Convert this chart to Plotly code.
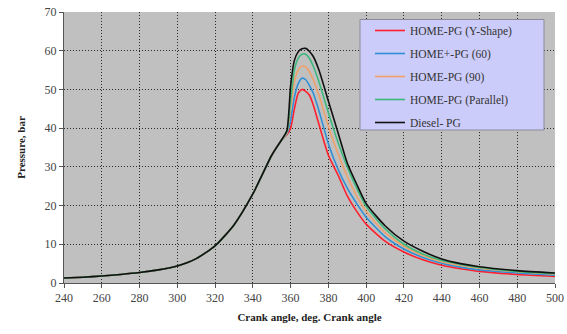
import plotly.graph_objects as go

# Crank angle (deg)
angle = [240, 250, 260, 270, 280, 290, 300, 310, 320, 330, 340, 345, 350, 355,
         358, 360, 362, 364, 366, 368, 370, 372, 375, 380, 385, 390, 395, 400,
         410, 420, 430, 440, 450, 460, 480, 500]

# Shared compression part (240..355)
common = [1.3, 1.5, 1.8, 2.2, 2.7, 3.4, 4.4, 6.3, 9.6, 15.0, 23.0, 28.0, 33.0, 36.8]

y_shape = common + [38.3, 40.0, 45.0, 49.0, 50.0, 49.5, 48.5, 46.0, 41.0, 33.0, 28.0, 22.5,
                    18.5, 15.2, 10.8, 8.0, 6.0, 4.6, 3.7, 3.0, 2.2, 1.7]
plus60 = common + [38.5, 42.0, 48.0, 51.5, 52.9, 52.5, 51.0, 49.0, 44.5, 36.0, 29.5, 24.5,
                   20.5, 17.0, 12.0, 8.8, 6.6, 5.1, 4.1, 3.4, 2.6, 2.0]
pg90 = common + [38.7, 45.0, 52.0, 55.0, 56.0, 55.8, 54.5, 52.5, 48.5, 40.5, 33.5, 27.5,
                 22.5, 18.5, 13.0, 9.5, 7.1, 5.5, 4.5, 3.8, 2.9, 2.3]
parallel = common + [39.0, 47.0, 55.0, 58.0, 59.1, 59.1, 58.0, 56.0, 52.0, 44.0, 36.5, 30.0,
                     24.5, 19.8, 14.0, 10.0, 7.5, 5.8, 4.8, 4.0, 3.0, 2.4]
diesel = common + [39.3, 51.0, 57.5, 59.7, 60.5, 60.6, 59.8, 58.5, 55.0, 47.0, 39.0, 31.0,
                   25.5, 20.5, 14.8, 10.8, 8.2, 6.2, 5.0, 4.2, 3.2, 2.6]

names = ["HOME-PG (Y-Shape)", "HOME+-PG (60)", "HOME-PG (90)", "HOME-PG (Parallel)", "Diesel- PG"]
series = [y_shape, plus60, pg90, parallel, diesel]
colors = ["#ff1f2f", "#2f8fd6", "#f0a068", "#3cb87a", "#111111"]

fig = go.Figure()
for i, (n, s, c) in enumerate(zip(names, series, colors)):
    fig.add_trace(go.Scatter(x=angle, y=s, mode="lines", name=n, legendgroup=str(i),
                             line=dict(color=c, width=1.6, shape="spline", smoothing=0.6)))

L, R, T, B = 64, 12, 12, 51
PW, PH = 567 - L - R, 334 - T - B

serif = "Times New Roman, Liberation Serif, serif"
fig.update_layout(
    width=567, height=334,
    margin=dict(l=L, r=R, t=T, b=B, autoexpand=False),
    paper_bgcolor="white",
    plot_bgcolor="#c0c0c0",
    font=dict(family=serif, color="#444444", size=11),
    showlegend=True,
    legend=dict(x=(370 - L) / PW, y=1 - (16 - T) / PH, xanchor="left", yanchor="top",
                bgcolor="rgba(0,0,0,0)", borderwidth=0,
                font=dict(family=serif, size=11.5, color="#333333"),
                tracegroupgap=4, itemwidth=30),
    shapes=[dict(type="rect", xref="paper", yref="paper",
                 x0=(360 - L) / PW, x1=(544 - L) / PW,
                 y0=1 - (130 - T) / PH, y1=1 - (19.5 - T) / PH,
                 fillcolor="#ccccfa", line=dict(color="#8a8a9a", width=1), layer="above")],
)
fig.update_xaxes(range=[240, 500], tickvals=list(range(240, 501, 20)), automargin=False,
                 showgrid=True, gridcolor="#2a2a2a", griddash="1px,2px", gridwidth=1,
                 showline=True, linecolor="#555555", linewidth=1,
                 ticks="outside", ticklen=4, tickcolor="#555555",
                 zeroline=False, tickfont=dict(size=12, family=serif, color="#444444"),
                 title=dict(text="<b>Crank angle, deg. Crank angle</b>",
                            font=dict(size=11, family=serif, color="#222222"), standoff=8))
fig.update_yaxes(range=[0, 70], tickvals=list(range(0, 71, 10)), automargin=False,
                 showgrid=True, gridcolor="#2a2a2a", griddash="1px,2px", gridwidth=1,
                 showline=True, linecolor="#555555", linewidth=1,
                 ticks="outside", ticklen=4, tickcolor="#555555",
                 zeroline=False, tickfont=dict(size=12, family=serif, color="#444444"),
                 title=dict(text="<b>Pressure, bar</b>",
                            font=dict(size=11, family=serif, color="#222222"), standoff=16))

fig.write_html("out.html")
